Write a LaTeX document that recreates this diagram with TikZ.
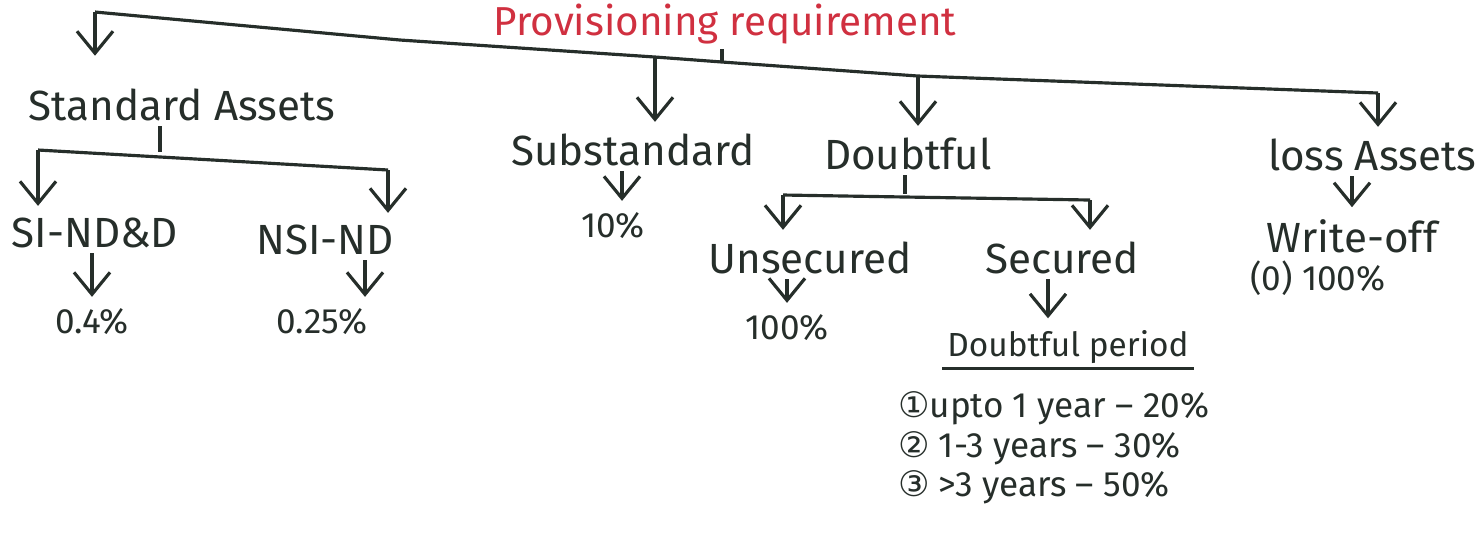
\documentclass[tikz,border=0pt]{standalone}
\usepackage{fontspec}
\setmainfont{Fira Sans}
\newfontfamily\circfont{DejaVu Sans}
\usetikzlibrary{arrows.meta}
\definecolor{ink}{RGB}{38,46,42}
\definecolor{redink}{RGB}{208,48,64}
\tikzset{
  lab/.style={font=\fontsize{12}{14}\selectfont},
  small/.style={font=\fontsize{10}{12}\selectfont},
  dn/.style={-{Straight Barb[length=2.2mm,width=3.6mm]}, shorten >=2pt}
}
\begin{document}
\begin{tikzpicture}[x=1cm, y=-1cm, line width=0.9pt, draw=ink,
    every node/.style={text=ink, inner sep=1pt}]
  \useasboundingbox (0,0) rectangle (14.81,5.5);
  % top level
  \node[font=\fontsize{11.5}{13}\selectfont, text=redink] (title) at (7.25,0.24) {Provisioning requirement};
  \coordinate (m0) at (0.95,0.12); \coordinate (m1) at (4.0,0.40);
  \coordinate (m2) at (6.55,0.57); \coordinate (m3) at (7.22,0.62);
  \coordinate (m4) at (9.18,0.76); \coordinate (m5) at (13.78,0.93);
  \draw (m0)--(m1)--(m2)--(m3)--(m4)--(m5);
  \draw (title.south -| m3) -- (m3);
  \node[lab] (std) at (1.82,1.05) {Standard Assets};
  \node[lab] (sub) at (6.33,1.50) {Substandard};
  \node[lab] (dbt) at (9.08,1.54) {Doubtful};
  \node[lab] (loss) at (13.72,1.55) {loss Assets};
  \draw[dn, shorten >=8pt] (m0) -- (m0 |- std.north);
  \draw[dn] (m2) -- (m2 |- sub.north);
  \draw[dn] (m4) -- (m4 |- dbt.north);
  \draw[dn] (m5) -- (m5 |- loss.north);
  % standard assets
  \coordinate (s0) at (0.38,1.50); \coordinate (sT) at (1.60,1.52);
  \coordinate (s1) at (3.88,1.70);
  \draw (std.south -| sT) -- (sT);
  \draw (s0)--(s1);
  \node[lab] (sind) at (0.95,2.33) {SI-ND\&D};
  \node[lab] (nsi) at (3.25,2.40) {NSI-ND};
  \draw[dn] (s0) -- (s0 |- sind.north);
  \draw[dn] (s1) -- (s1 |- nsi.north);
  \node[small] (p04) at (0.92,3.22) {0.4\%};
  \node[small] (p025) at (3.22,3.22) {0.25\%};
  \draw[dn] (sind.south -| p04) -- (p04.north);
  \draw[dn] (nsi.south -| 3.65,0) -- (p025.north -| 3.65,0);
  % substandard
  \node[small] (p10) at (6.13,2.26) {10\%};
  \draw[dn] (sub.south -| 6.22,0) -- (p10.north -| 6.22,0);
  % doubtful
  \coordinate (d0) at (7.83,1.95); \coordinate (dT) at (9.05,1.94);
  \coordinate (d1) at (10.90,2.00);
  \draw (dbt.south -| dT) -- (dT);
  \draw (d0)--(d1);
  \node[lab] (uns) at (8.10,2.58) {Unsecured};
  \node[lab] (sec) at (10.62,2.58) {Secured};
  \draw[dn] (d0) -- (d0 |- uns.north);
  \draw[dn] (d1) -- (d1 |- sec.north);
  \node[small] (p100) at (7.87,3.28) {100\%};
  \draw[dn] (uns.south -| p100) -- (p100.north);
  \node[font=\fontsize{9.5}{11}\selectfont] (per) at (10.68,3.47) {Doubtful period};
  \draw (per.south west) -- (per.south east);
  \draw[dn] (sec.south -| 10.48,0) -- (per.north -| 10.48,0);
  \node[small, anchor=west] (r1) at (8.93,4.08) {{\circfont ①}upto 1 year – 20\%};
  \node[small, anchor=west] (r2) at (8.93,4.48) {{\circfont ②} 1-3 years – 30\%};
  \node[small, anchor=west] (r3) at (8.93,4.87) {{\circfont ③} >3 years – 50\%};
  % loss assets
  \node[lab] (wo) at (13.52,2.36) {Write-off};
  \node[small] (or) at (13.18,2.78) {(0) 100\%};
  \draw[dn] (loss.south -| wo) -- (wo.north);
\end{tikzpicture}
\end{document}
